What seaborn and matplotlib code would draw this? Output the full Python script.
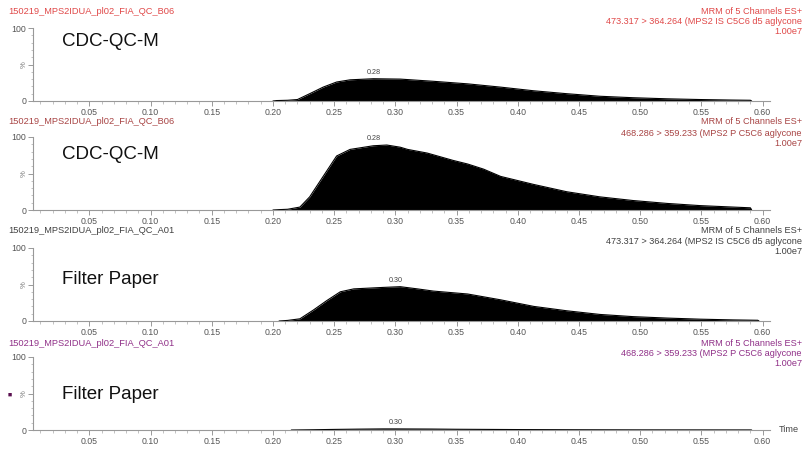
import matplotlib
matplotlib.use("Agg")
import matplotlib.pyplot as plt
import seaborn as sns
import pandas as pd
from matplotlib.ticker import MultipleLocator

sns.set_style("white")
plt.rcParams['font.family'] = ['Liberation Sans', 'DejaVu Sans']

# --- data (time in min, intensity in %) ---
time_1 = [0.200, 0.203, 0.212, 0.220, 0.230, 0.241, 0.252, 0.263, 0.282, 0.304, 0.331,
          0.359, 0.386, 0.413, 0.440, 0.467, 0.494, 0.522, 0.549, 0.575, 0.590, 0.591]
inten_1 = [0.0, 0.6, 1.0, 2.0, 10.0, 19.0, 26.0, 29.0, 30.5, 30.0, 27.0,
           23.5, 19.0, 14.0, 10.0, 6.5, 4.5, 3.0, 2.0, 1.3, 1.0, 0.0]

time_2 = [0.200, 0.205, 0.212, 0.222, 0.230, 0.241, 0.252, 0.263, 0.282, 0.293, 0.304,
          0.310, 0.326, 0.347, 0.359, 0.372, 0.386, 0.413, 0.440, 0.467, 0.494, 0.522,
          0.549, 0.576, 0.590, 0.591]
inten_2 = [0.0, 0.5, 1.0, 4.0, 18.0, 46.0, 74.0, 83.0, 88.0, 89.0, 86.0,
           83.0, 78.0, 68.0, 63.0, 56.0, 46.0, 35.0, 25.0, 18.0, 13.0, 9.0,
           6.0, 4.0, 3.0, 0.0]

time_3 = [0.205, 0.212, 0.222, 0.233, 0.244, 0.255, 0.266, 0.290, 0.304, 0.318, 0.331,
          0.359, 0.386, 0.413, 0.440, 0.467, 0.494, 0.522, 0.549, 0.576, 0.596, 0.597]
inten_3 = [0.0, 0.8, 3.0, 15.0, 28.0, 40.0, 44.0, 46.0, 47.0, 44.0, 41.0,
           37.0, 29.0, 20.0, 14.0, 9.0, 6.0, 4.0, 2.5, 1.5, 1.0, 0.0]

time_4 = [0.215, 0.230, 0.250, 0.270, 0.290, 0.300, 0.330, 0.350, 0.400, 0.450, 0.500, 0.550, 0.590, 0.591]
inten_4 = [0.0, 0.3, 0.8, 1.2, 1.5, 1.5, 1.3, 1.0, 0.6, 0.35, 0.2, 0.15, 0.1, 0.0]

peak_labels = ['0.28', '0.28', '0.30', '0.30']
peak_times = [0.282, 0.282, 0.300, 0.300]
peak_heights = [30.5, 89.0, 47.0, 1.5]

sample_names = ['150219_MPS2IDUA_pl02_FIA_QC_B06', '150219_MPS2IDUA_pl02_FIA_QC_B06',
                '150219_MPS2IDUA_pl02_FIA_QC_A01', '150219_MPS2IDUA_pl02_FIA_QC_A01']
channels = ['473.317 > 364.264 (MPS2 IS C5C6 d5 aglycone', '468.286 > 359.233 (MPS2 P C5C6 aglycone',
            '473.317 > 364.264 (MPS2 IS C5C6 d5 aglycone', '468.286 > 359.233 (MPS2 P C5C6 aglycone']
big_labels = ['CDC-QC-M', 'CDC-QC-M', 'Filter Paper', 'Filter Paper']
header_colors = ['#e04848', '#a84444', '#404040', '#903088']

times = [time_1, time_2, time_3, time_4]
intens = [inten_1, inten_2, inten_3, inten_4]

W, H = 803, 449
fig = plt.figure(figsize=(W / 100, H / 100), dpi=100)

# pixel rows of 100% and 0% for each trace
tops = [28, 137, 248, 357]
bottoms = [101, 210, 321, 430]
head_y = [11, 122, 231, 343]
label_y = [0.82, 0.76, 0.575, 0.48]

for i in range(4):
    ax = fig.add_axes([33 / W, 1 - bottoms[i] / H, 737 / W, (bottoms[i] - tops[i]) / H])
    df = pd.DataFrame({'time': times[i], 'intensity': intens[i]})
    ax.fill_between(df['time'], df['intensity'], color='black', lw=0)
    sns.lineplot(data=df, x='time', y='intensity', ax=ax, color='black', lw=0.8, sort=False)
    ax.set_xlim(0.004, 0.606)
    ax.set_ylim(0, 100)
    ax.set_xlabel('')
    ax.set_ylabel('')
    ax.xaxis.set_major_locator(MultipleLocator(0.05))
    ax.xaxis.set_minor_locator(MultipleLocator(0.01))
    ax.set_yticks([0, 50, 100])
    ax.set_yticklabels(['0', '', '100'])
    ax.yaxis.set_minor_locator(MultipleLocator(10))
    ax.set_xticks([0.05 * k for k in range(1, 13)])
    ax.set_xticklabels(['%.2f' % (0.05 * k) for k in range(1, 13)])
    for s in ['top', 'right']:
        ax.spines[s].set_visible(False)
    for s in ['left', 'bottom']:
        ax.spines[s].set_color('#999999')
        ax.spines[s].set_linewidth(0.8)
    ax.tick_params(axis='both', which='both', bottom=True, left=True)
    ax.tick_params(axis='both', which='major', direction='out', length=3.5, width=0.7,
                   color='#999999', labelsize=6.3, labelcolor='#555555', pad=1.5)
    ax.tick_params(axis='both', which='minor', direction='out', length=1.8, width=0.5,
                   color='#aaaaaa')
    ax.patch.set_alpha(0)

    ax.text(-0.012, 0.5, '%', transform=ax.transAxes, rotation=90, ha='center', va='center',
            fontsize=5.5, color='#777777')
    ax.text(0.039, label_y[i], big_labels[i], transform=ax.transAxes, fontsize=13.5,
            color='#111111', va='center', ha='left')
    ax.annotate(peak_labels[i], (peak_times[i], peak_heights[i]), xytext=(0, 2),
                textcoords='offset points', ha='center', va='bottom', fontsize=5.2, color='#444444',
                annotation_clip=False)

    c = header_colors[i]
    fig.text(8 / W, 1 - head_y[i] / H, sample_names[i], fontsize=6.7, color=c, va='center', ha='left')
    fig.text(802 / W, 1 - head_y[i] / H, 'MRM of 5 Channels ES+', fontsize=6.6, color=c,
             va='center', ha='right')
    fig.text(802 / W, 1 - (head_y[i] + 11) / H, channels[i], fontsize=6.6, color=c,
             va='center', ha='right')
    fig.text(802 / W, 1 - (head_y[i] + 21) / H, '1.00e7', fontsize=6.6, color=c,
             va='center', ha='right')

    if i == 3:
        ax.text(1.012, 0.0, 'Time', transform=ax.transAxes, fontsize=6.6, color='#444444',
                va='center', ha='left')
        fig.text(10 / W, 1 - 395 / H, '\u25a0', fontsize=5, color='#5a1050', va='center', ha='center')

fig.savefig('out.png', dpi=100)
